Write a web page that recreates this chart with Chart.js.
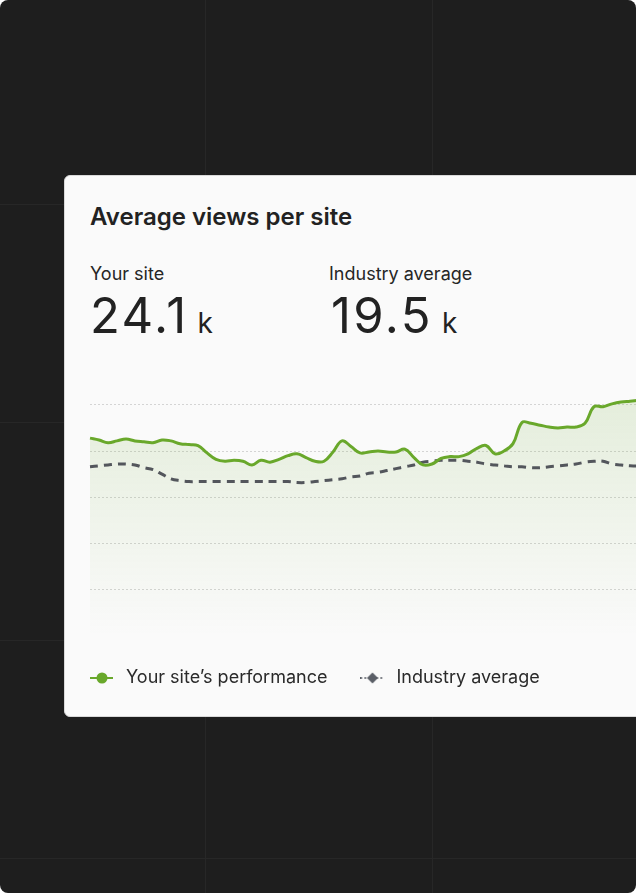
<!DOCTYPE html>
<html>
<head>
<meta charset="utf-8">
<script src="https://cdn.jsdelivr.net/npm/chart.js@4.4.1/dist/chart.umd.min.js"></script>
<style>
  html, body { margin: 0; padding: 0; background: #ffffff; }
  body { width: 636px; height: 893px; overflow: hidden; font-family: Inter, "Noto Sans", sans-serif; }
  #frame { position: absolute; left: 0; top: 0; width: 636px; height: 893px; background: #1e1e1e; border-radius: 8px; overflow: hidden; }
  .vline { position: absolute; top: 0; width: 1px; height: 893px; background: #272727; }
  .hline { position: absolute; left: 0; height: 1px; width: 636px; background: #272727; }
  #card { position: absolute; left: 64px; top: 175px; width: 640px; height: 542px; box-sizing: border-box;
          background: #fafafa; border: 1px solid #d9d9d9; border-radius: 6px; }
  .txt { position: absolute; white-space: nowrap; color: #222222; }
  #title { left: 90px; top: 205px; font-size: 24px; line-height: 24px; font-weight: 600; }
  .label { top: 264.5px; font-size: 18px; line-height: 18px; color: #262626; }
  .big { top: 291px; font-size: 49px; line-height: 49px; color: #222222; }
  .big .num { letter-spacing: 2.4px; }
  .big .unit { font-size: 28px; line-height: 28px; margin-left: 9px; }
  #chartBox { position: absolute; left: 57px; top: 340px; width: 582px; height: 357px; }
</style>
</head>
<body>
<div id="frame">
  <div class="vline" style="left:205px"></div>
  <div class="vline" style="left:432px"></div>
  <div class="hline" style="top:204px"></div>
  <div class="hline" style="top:422px"></div>
  <div class="hline" style="top:640px"></div>
  <div class="hline" style="top:858px"></div>

  <div id="card"></div>
  <div id="title" class="txt">Average views per site</div>
  <div class="txt label" style="left:90px">Your site</div>
  <div class="txt big" style="left:90px"><span class="num">24.1</span><span class="unit">k</span></div>
  <div class="txt label" style="left:329px">Industry average</div>
  <div class="txt big" style="left:331px"><span class="num">19.5</span><span class="unit">k</span></div>

  <div id="chartBox"><canvas id="myChart"></canvas></div>
</div>

<script>
// views per day, in thousands
const days = [];
for (let d = 1; d <= 62; d++) days.push('Day ' + d);

const siteViews = [
  21.4, 21.2, 20.9, 21.1, 21.3, 21.1, 21.0, 20.9, 21.2, 21.1,
  20.8, 20.7, 20.6, 19.8, 19.1, 18.9, 19.0, 18.9, 18.5, 19.0,
  18.8, 19.1, 19.5, 19.7, 19.3, 18.9, 18.9, 19.9, 21.1, 20.5,
  19.8, 19.9, 20.0, 19.9, 19.9, 20.2, 19.3, 18.5, 18.6, 19.2,
  19.4, 19.4, 19.7, 20.3, 20.6, 19.7, 20.0, 20.8, 23.1, 23.0,
  22.8, 22.6, 22.5, 22.6, 22.6, 23.0, 24.8, 24.8, 25.1, 25.3,
  25.4, 25.5
];

const industryViews = [
  18.3, 18.4, 18.5, 18.6, 18.6, 18.5, 18.2, 18.0, 17.5, 17.0,
  16.8, 16.7, 16.7, 16.7, 16.7, 16.7, 16.7, 16.7, 16.7, 16.7,
  16.7, 16.7, 16.7, 16.6, 16.6, 16.7, 16.8, 16.9, 17.0, 17.2,
  17.3, 17.6, 17.7, 17.9, 18.1, 18.3, 18.5, 18.8, 18.9, 19.0,
  19.0, 19.0, 18.9, 18.8, 18.6, 18.5, 18.4, 18.3, 18.3, 18.2,
  18.2, 18.3, 18.4, 18.5, 18.6, 18.8, 18.9, 18.9, 18.6, 18.5,
  18.4, 18.4
];

const yTicks = [0, 5, 10, 15, 20, 25, 30];

const GREEN = '#69a82b';
const GRAY = '#53565c';

// little line + marker pictures for the legend
function legendMarker(color, dotted, shape) {
  const c = document.createElement('canvas');
  c.width = 27;
  c.height = 14;
  const g = c.getContext('2d');
  g.strokeStyle = color;
  g.lineWidth = 2;
  if (dotted) g.setLineDash([1.5, 2.5]);
  g.beginPath();
  g.moveTo(0, 7);
  g.lineTo(23, 7);
  g.stroke();
  g.setLineDash([]);
  g.fillStyle = color;
  g.beginPath();
  if (shape === 'circle') {
    g.arc(12, 7, 5.5, 0, Math.PI * 2);
  } else {
    g.moveTo(12, 1.5);
    g.lineTo(17.5, 7);
    g.lineTo(12, 12.5);
    g.lineTo(6.5, 7);
    g.closePath();
  }
  g.fill();
  return c;
}

const markers = [legendMarker(GREEN, false, 'circle'), legendMarker('#5b5f67', true, 'diamond')];

Chart.defaults.font.family = 'Inter, "Noto Sans", sans-serif';

const ctx = document.getElementById('myChart').getContext('2d');
const myChart = new Chart(ctx, {
  type: 'line',
  data: {
    labels: days,
    datasets: [
      {
        label: 'Your site\u2019s performance',
        data: siteViews,
        borderColor: GREEN,
        borderWidth: 3,
        tension: 0.4,
        pointRadius: 0,
        fill: 'origin',
        backgroundColor: (c) => {
          const area = c.chart.chartArea;
          if (!area) return 'transparent';
          const grad = c.chart.ctx.createLinearGradient(0, area.top, 0, area.bottom);
          grad.addColorStop(0, 'rgba(105, 168, 43, 0.17)');
          grad.addColorStop(1, 'rgba(105, 168, 43, 0)');
          return grad;
        }
      },
      {
        label: 'Industry average',
        data: industryViews,
        borderColor: GRAY,
        borderWidth: 3,
        borderDash: [8, 6],
        tension: 0.4,
        pointRadius: 0,
        fill: false
      }
    ]
  },
  options: {
    responsive: true,
    maintainAspectRatio: false,
    animation: false,
    layout: {
      padding: { top: 18.6, left: 0, right: 0, bottom: 0 }
    },
    scales: {
      x: {
        display: false
      },
      y: {
        min: yTicks[0],
        max: yTicks[yTicks.length - 1],
        afterBuildTicks: (scale) => {
          scale.ticks = yTicks.map(v => ({ value: v }));
        },
        afterFit: (scale) => {
          scale.width = 33;
        },
        ticks: { display: false },
        border: { display: false, dash: [2, 2] },
        grid: {
          drawTicks: false,
          lineWidth: 1,
          color: (c) => (c.tick && c.tick.value > 0 && c.tick.value < 30) ? '#d4d4d4' : 'transparent'
        }
      }
    },
    plugins: {
      filler: { drawTime: 'beforeDatasetsDraw' },
      tooltip: { enabled: false },
      legend: {
        position: 'bottom',
        align: 'start',
        labels: {
          usePointStyle: true,
          pointStyleWidth: 27,
          padding: 33,
          color: '#2a2a2a',
          font: { size: 18 },
          generateLabels: (chart) => chart.data.datasets.map((ds, i) => ({
            text: ds.label,
            pointStyle: markers[i],
            fontColor: '#2a2a2a',
            fillStyle: 'transparent',
            strokeStyle: 'transparent',
            lineWidth: 0,
            hidden: false,
            datasetIndex: i
          }))
        }
      }
    }
  }
});
</script>
</body>
</html>
